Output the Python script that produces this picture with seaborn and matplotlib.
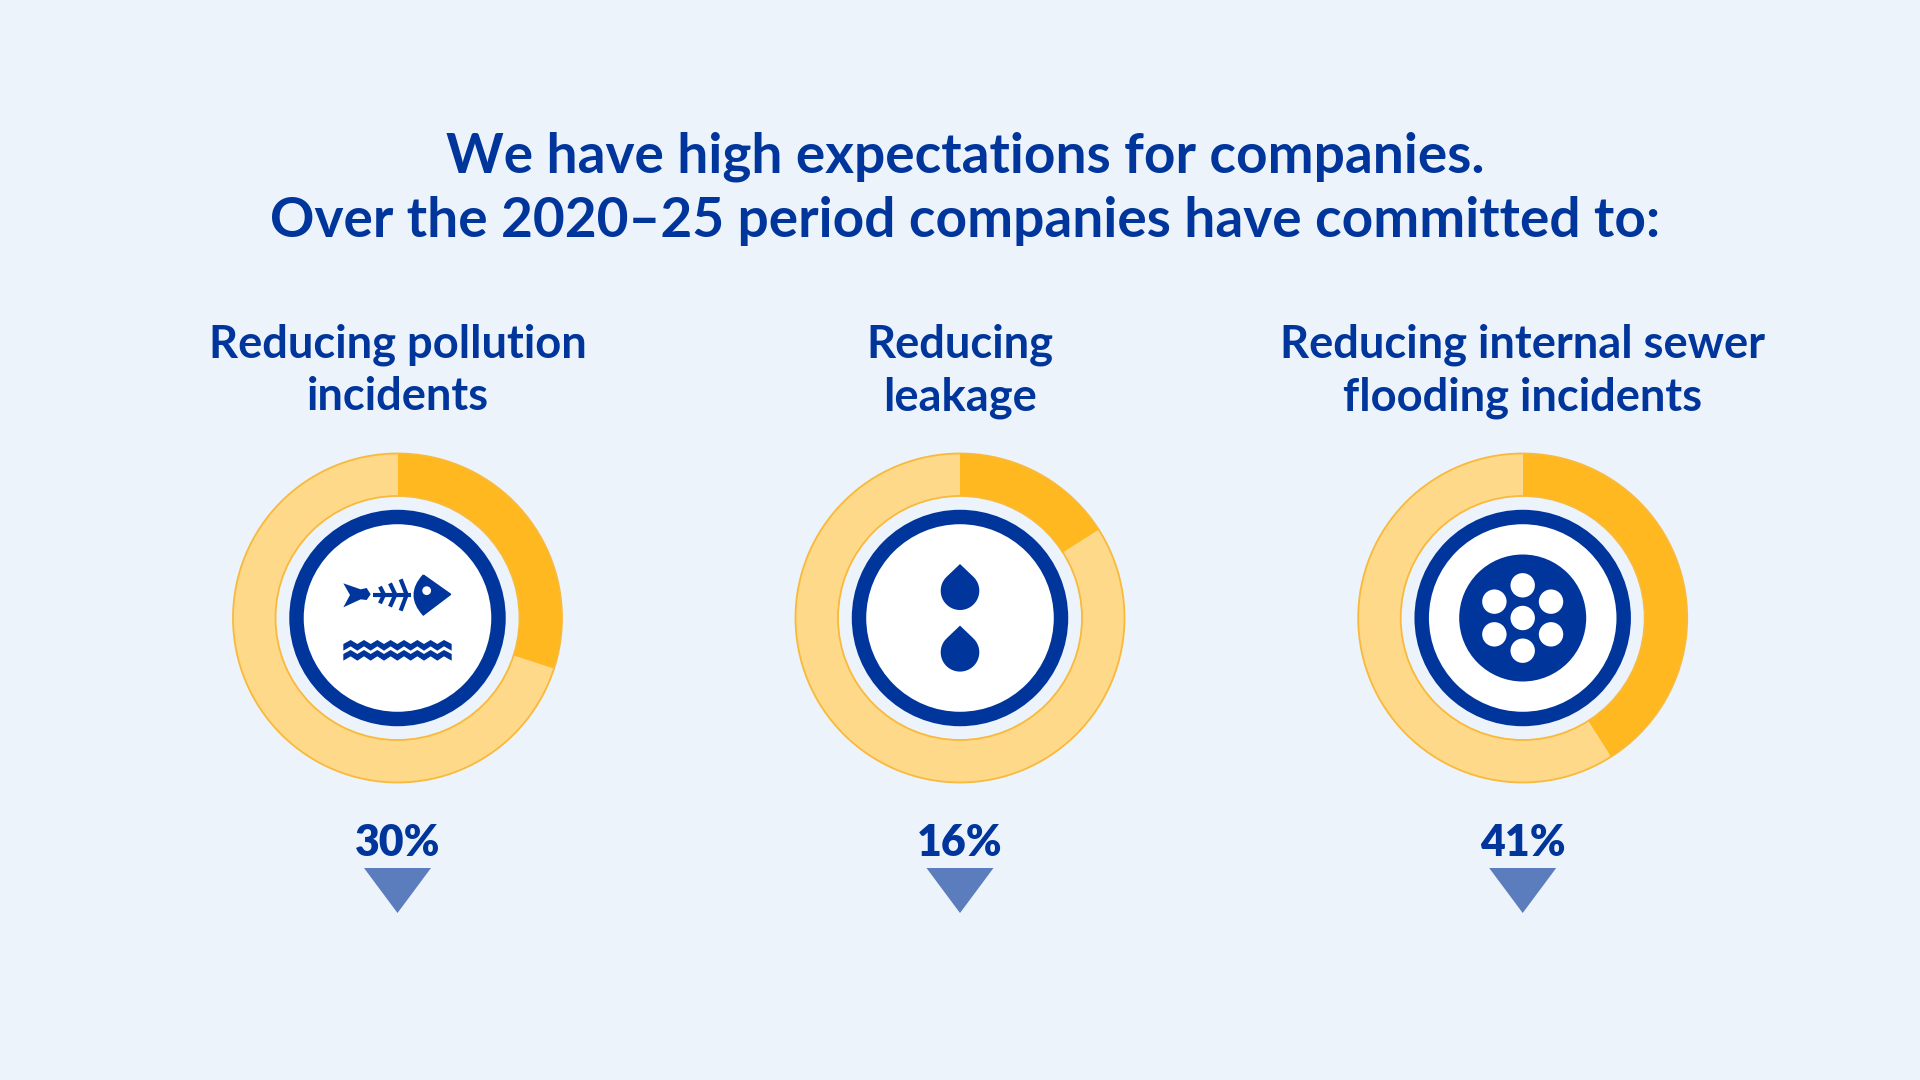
import numpy as np
import seaborn as sns
import matplotlib.pyplot as plt
from matplotlib.patches import Circle, Polygon, PathPatch
from matplotlib.path import Path

title_lines = ['We have high expectations for companies.',
               'Over the 2020\u201325 period companies have committed to:']
categories = ['Reducing pollution\nincidents', 'Reducing\nleakage',
              'Reducing internal sewer\nflooding incidents']
reductions = [30, 16, 41]
pct_labels = ['30%', '16%', '41%']

BG = '#ecf3fa'
BLUE = '#00359c'
TRI = '#5b7dbd'
ORANGE = '#ffb81f'
LIGHT = '#ffd98a'
EDGE = '#f9b93a'

sns.set_theme(style='white', rc={'figure.facecolor': BG, 'savefig.facecolor': BG})
plt.rcParams['font.family'] = ['Lato', 'DejaVu Sans']

fig = plt.figure(figsize=(19.2, 10.8), dpi=100)
ax = fig.add_axes([0, 0, 1, 1])

centres = [397.5, 960, 1522.7]
cy = 1080 - 618


def fish_icon(cx):
    def pts(p):
        p = np.array(p, dtype=float)
        return np.c_[cx - 397.5 + 330 + p[:, 0] / 3, 1080 - (560 + p[:, 1] / 3)]

    tail = [(40, 70), (92, 88), (110, 84), (122, 103), (110, 120), (92, 118), (40, 142), (60, 105)]
    ax.add_patch(Polygon(pts(tail), fc=BLUE, ec='none', zorder=6))
    for line in ([(130, 104), (243, 104)], [(212, 58), (230, 104), (212, 152)],
                 [(180, 70), (196, 104), (180, 140)], [(150, 80), (162, 104), (150, 130)]):
        xy = pts(line)
        ax.plot(xy[:, 0], xy[:, 1], color=BLUE, lw=3, solid_capstyle='butt',
                solid_joinstyle='miter', zorder=6)
    head = pts([(280, 45), (362, 103), (280, 165), (225, 105), (280, 45)])
    ax.add_patch(PathPatch(Path(head, [Path.MOVETO, Path.LINETO, Path.LINETO, Path.CURVE3, Path.CURVE3]),
                           fc=BLUE, ec=BLUE, lw=1, zorder=6))
    eye = pts([(290, 92)])[0]
    ax.add_patch(Circle(eye, 4.4, fc='white', ec='none', zorder=7))
    # two zigzag bands of water
    for top in (240, 270):
        xs = [40, 62, 82, 102, 122, 142, 162, 182, 202, 222, 242, 262, 282, 302, 322, 342, 365]
        upper = [(x, top + (0 if i % 2 else 12)) for i, x in enumerate(xs)]
        lower = [(x, top + (19 if i % 2 else 32)) for i, x in enumerate(xs)]
        ax.add_patch(Polygon(pts(upper + lower[::-1]), fc=BLUE, ec='none', zorder=6))


def drop_icon(cx):
    for dy in (-27.3, 34.3):
        # dy is the offset of the drop's round part from the ring centre
        top = [(cx, cy - dy + 26.7)]
        ang = np.radians(np.linspace(46.5, -226.5, 60))
        arc = np.c_[cx + 19.3 * np.cos(ang), cy - dy + 19.3 * np.sin(ang)]
        ax.add_patch(Polygon(np.vstack([top, arc]), fc=BLUE, ec='none', zorder=6))


def drain_icon(cx):
    ax.add_patch(Circle((cx, cy), 63.5, fc=BLUE, ec='none', zorder=6))
    ax.add_patch(Circle((cx, cy), 12.2, fc='white', ec='none', zorder=7))
    for a in np.radians(np.arange(30, 390, 60)):
        ax.add_patch(Circle((cx + 32.7 * np.cos(a), cy + 32.7 * np.sin(a)), 12.2,
                            fc='white', ec='none', zorder=7))


icons = [fish_icon, drop_icon, drain_icon]

for cx, cat, val, lab, icon in zip(centres, categories, reductions, pct_labels, icons):
    ax.pie([val, 100 - val], colors=[ORANGE, LIGHT], startangle=90, counterclock=False,
           center=(cx, cy), radius=164.5, wedgeprops={'width': 42.5, 'linewidth': 0})
    ax.add_patch(Circle((cx, cy), 164.5, fc='none', ec=EDGE, lw=1.3, zorder=3))
    ax.add_patch(Circle((cx, cy), 122, fc=BG, ec=EDGE, lw=1.3, zorder=3))
    ax.add_patch(Circle((cx, cy), 101, fc='white', ec=BLUE, lw=10.4, zorder=4))
    icon(cx)
    ax.text(cx, 1080 - 371, cat, ha='center', va='center', color=BLUE, fontsize=32.6,
            fontweight='bold', linespacing=1.3)
    ax.text(cx, 1080 - 842.5, lab, ha='center', va='center', color=BLUE, fontsize=30.8, fontweight='heavy')
    ax.add_patch(Polygon([(cx - 33.5, 1080 - 868), (cx + 33.5, 1080 - 868), (cx, 1080 - 913)],
                         fc=TRI, ec='none'))

ax.text(965, 1080 - 157, title_lines[0], ha='center', va='center', color=BLUE, fontsize=39.6, fontweight='bold')
ax.text(965, 1080 - 221, title_lines[1], ha='center', va='center', color=BLUE, fontsize=39.6, fontweight='bold')

ax.set_xlim(0, 1920)
ax.set_ylim(0, 1080)
ax.axis('off')
fig.savefig('out.png', dpi=100)
